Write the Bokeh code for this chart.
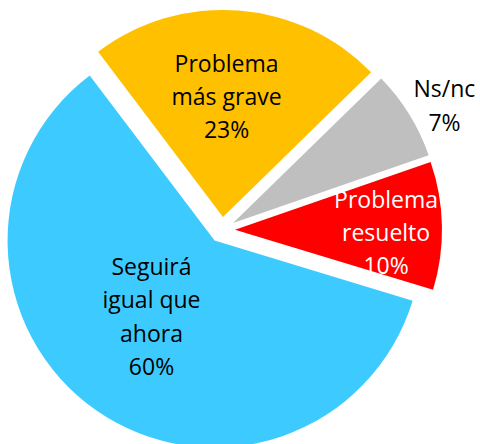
import numpy as np
from bokeh.plotting import figure
from bokeh.models import Range1d, ColumnDataSource
from bokeh.core.properties import value
from bokeh.embed import file_html
from bokeh.resources import INLINE

# ---- data ----
categories = ["Problema más grave", "Ns/nc", "Problema resuelto", "Seguirá igual que ahora"]
labels = ["Problema\nmás grave\n23%", "Ns/nc\n7%", "Problema\nresuelto\n10%", "Seguirá\nigual que\nahora\n60%"]
values = [23, 7, 10, 60]

# ---- styles / layout ----
colors = ["#FFC000", "#BFBFBF", "#FF0000", "#3DCBFF"]
label_colors = ["black", "black", "white", "black"]
label_rfrac = [0.585, 1.17, 0.73, 0.475]
label_nudge_deg = [-2.6, 2.5, 2.0, 5.0]

W, H = 480, 444
cx, cy = 221.5, H - 229.4
R = 207
explode = 13
start_clock_deg = -37.1

vals = np.array(values, dtype=float)
frac = vals / vals.sum()
cum = np.concatenate([[0], np.cumsum(frac)[:-1]])
th1 = start_clock_deg + 360 * cum
th2 = th1 + 360 * frac
thm = (th1 + th2) / 2

xs = cx + explode * np.sin(np.radians(thm))
ys = cy + explode * np.cos(np.radians(thm))
start_angle = np.radians(90 - th2)
end_angle = np.radians(90 - th1)

la = np.radians(thm + np.array(label_nudge_deg))
lx = xs + R * np.array(label_rfrac) * np.sin(la)
ly = ys + R * np.array(label_rfrac) * np.cos(la)

src = ColumnDataSource(dict(x=xs, y=ys, sa=start_angle, ea=end_angle, color=colors,
                            cat=categories))
lsrc = ColumnDataSource(dict(x=lx, y=ly, text=labels, tc=label_colors))

p = figure(width=W, height=H, x_range=Range1d(0, W), y_range=Range1d(0, H),
           output_backend="svg", toolbar_location=None, min_border=0)
p.axis.visible = False
p.grid.visible = False
p.outline_line_color = None
p.background_fill_color = "white"
p.border_fill_color = "white"

p.wedge(x="x", y="y", radius=R, start_angle="sa", end_angle="ea", fill_color="color",
        line_color=None, source=src)
p.text(x="x", y="y", text="text", text_color="tc", source=lsrc,
       text_font=value("Open Sans"), text_font_size="23px",
       text_align="center", text_baseline="middle", text_line_height=1.04)

open("out.html", "w").write(file_html(p, INLINE))
